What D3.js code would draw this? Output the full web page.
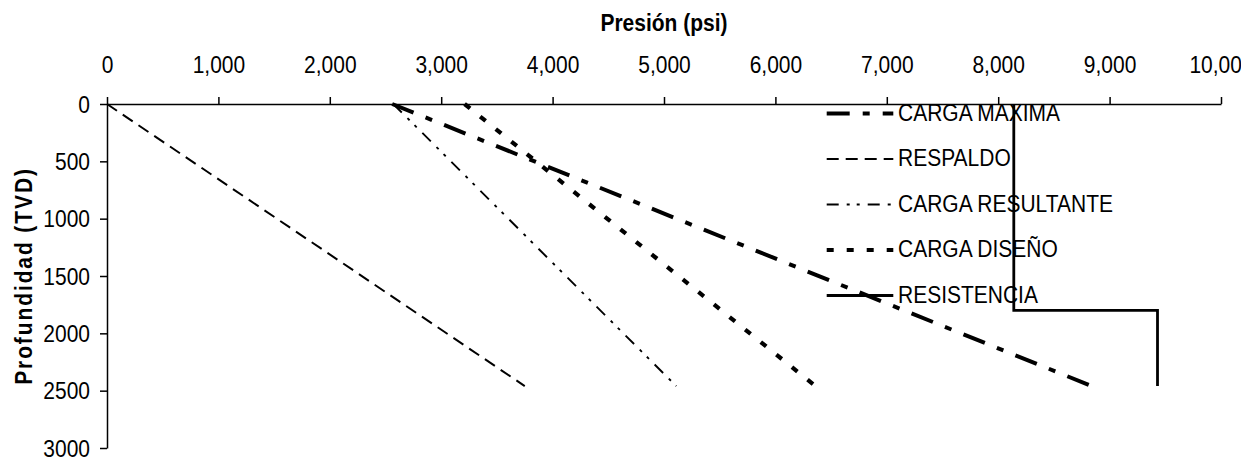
<!DOCTYPE html>
<html><head><meta charset="utf-8">
<script src="https://cdn.jsdelivr.net/npm/d3@7"></script>
<style>
html,body{margin:0;padding:0;background:#fff;}
svg{display:block;}
text{font-family:"Liberation Sans",Arial,Helvetica,sans-serif;fill:#000;}
</style></head><body>
<svg id="chart" width="1241" height="459"></svg>
<script>
// ---- data ----
const seriesNames = ["CARGA MAXIMA", "RESPALDO", "CARGA RESULTANTE", "CARGA DISEÑO", "RESISTENCIA"];
const cargaMaximaPsi = [2560, 8840];
const cargaMaximaDepth = [0, 2460];
const respaldoPsi = [0, 3750];
const respaldoDepth = [0, 2460];
const cargaResultantePsi = [2570, 5110];
const cargaResultanteDepth = [0, 2460];
const cargaDisenoPsi = [3210, 6360];
const cargaDisenoDepth = [0, 2460];
const resistenciaPsi = [8140, 8140, 9430, 9430];
const resistenciaDepth = [0, 1800, 1800, 2460];
const pressureTicks = [0, 1000, 2000, 3000, 4000, 5000, 6000, 7000, 8000, 9000, 10000];
const depthTicks = [0, 500, 1000, 1500, 2000, 2500, 3000];
const xTitle = "Presión (psi)";
const yTitle = "Profundidad (TVD)";

// ---- styles ----
const styles = [
  {w: 4,   dash: "23,13,7,13"},
  {w: 2,   dash: "12,7"},
  {w: 1.9, dash: "12,8,3,7,3,8"},
  {w: 4.2, dash: "7,13"},
  {w: 2.8, dash: null}
];
const seriesData = [
  [cargaMaximaPsi, cargaMaximaDepth],
  [respaldoPsi, respaldoDepth],
  [cargaResultantePsi, cargaResultanteDepth],
  [cargaDisenoPsi, cargaDisenoDepth],
  [resistenciaPsi, resistenciaDepth]
];

const svg = d3.select("#chart");
const x = d3.scaleLinear().domain([0, 10000]).range([107, 1221]);
const y = d3.scaleLinear().domain([0, 3000]).range([104, 448]);
const SY = 1.12;
const fs = 21;

// x axis (top)
const gx = svg.append("g").attr("transform", `translate(0,${y(0)})`)
  .call(d3.axisTop(x).tickValues(pressureTicks).tickFormat(d3.format(",")).tickSizeInner(7).tickSizeOuter(0));
gx.selectAll("path,line").attr("stroke", "#000").attr("stroke-width", 1.5);
gx.selectAll("text").attr("y", 0).attr("dy", null).attr("font-size", fs)
  .attr("font-family", "Liberation Sans, Arial, sans-serif")
  .attr("transform", `translate(0,-30.7) scale(1,${SY})`);

// y axis (left)
const gy = svg.append("g").attr("transform", `translate(${x(0)},0)`)
  .call(d3.axisLeft(y).tickValues(depthTicks).tickFormat(d3.format("d")).tickSizeInner(7).tickSizeOuter(0));
gy.selectAll("path,line").attr("stroke", "#000").attr("stroke-width", 1.5);
gy.selectAll("text").attr("x", 0).attr("y", 0).attr("dy", null).attr("font-size", fs)
  .attr("font-family", "Liberation Sans, Arial, sans-serif")
  .attr("transform", `translate(-17,8.2) scale(1,${SY})`);

// axis titles
svg.append("text")
  .attr("transform", `translate(${(x(0) + x(10000)) / 2},30.7) scale(1,${SY})`)
  .attr("text-anchor", "middle").attr("font-size", fs).attr("font-weight", "bold")
  .text(xTitle);
svg.append("text")
  .attr("transform", `translate(31.5,${(y(0) + y(3000)) / 2}) rotate(-90) scale(1,${SY})`)
  .attr("text-anchor", "middle").attr("font-size", fs).attr("font-weight", "bold")
  .attr("letter-spacing", "1.9px")
  .text(yTitle);

// series
const line = d3.line().x(d => x(d[0])).y(d => y(d[1]));
seriesData.forEach((s, i) => {
  const pts = s[0].map((p, j) => [p, s[1][j]]);
  svg.append("path").datum(pts)
    .attr("d", line).attr("fill", "none").attr("stroke", "#000")
    .attr("stroke-width", styles[i].w)
    .attr("stroke-dasharray", styles[i].dash)
    .attr("stroke-linejoin", "miter");
});

// legend
const lg = svg.append("g");
seriesNames.forEach((name, i) => {
  const ly = 113.5 + i * 45.5;
  lg.append("line").attr("x1", 826.7).attr("x2", 893.3).attr("y1", ly).attr("y2", ly)
    .attr("stroke", "#000").attr("stroke-width", styles[i].w)
    .attr("stroke-dasharray", styles[i].dash);
  lg.append("text").attr("transform", `translate(898,${ly + 7}) scale(1,${SY})`)
    .attr("font-size", fs).text(name);
});
</script>
</body></html>
